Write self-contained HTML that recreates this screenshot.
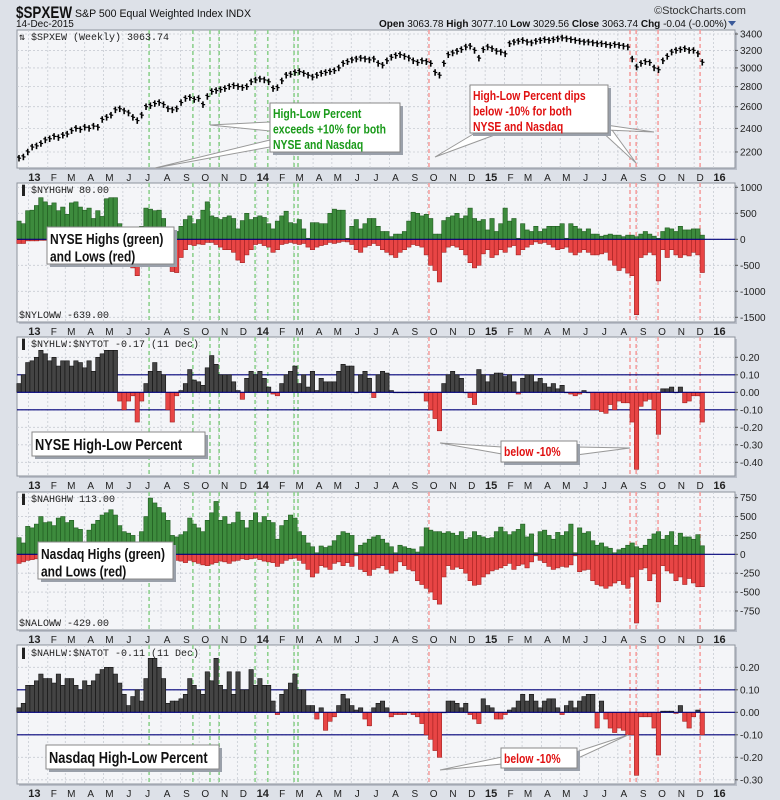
<!DOCTYPE html>
<html><head><meta charset="utf-8"><style>
html,body{margin:0;padding:0;background:#dde1e8;}
svg{display:block;font-family:"Liberation Sans",sans-serif;}
.ax{font-size:10px;fill:#222;}
.mo{font-size:10px;fill:#222;}
.yr{font-size:11px;font-weight:bold;fill:#222;}
.pl{font-family:"Liberation Mono",monospace;font-size:10px;fill:#222;}
.nb{font-family:"Liberation Sans Narrow","Liberation Sans",sans-serif;font-weight:bold;}
</style></head><body>
<svg id="chart" width="780" height="800" viewBox="0 0 780 800">
<rect x="0" y="0" width="780" height="800" fill="#dde1e8"/>
<text x="16" y="18" font-size="17" font-weight="bold" fill="#111" textLength="56" lengthAdjust="spacingAndGlyphs">$SPXEW</text>
<text x="75" y="17" font-size="11" fill="#111" textLength="176" lengthAdjust="spacingAndGlyphs">S&amp;P 500 Equal Weighted Index  INDX</text>
<text x="16" y="27" font-size="10" fill="#111">14-Dec-2015</text>
<text x="700" y="14" font-size="11" fill="#333" text-anchor="middle">©StockCharts.com</text>
<text x="727" y="27" font-size="10" fill="#111" text-anchor="end"><tspan font-weight="bold">Open</tspan> 3063.78 <tspan font-weight="bold">High</tspan> 3077.10 <tspan font-weight="bold">Low</tspan> 3029.56 <tspan font-weight="bold">Close</tspan> 3063.74 <tspan font-weight="bold">Chg</tspan> -0.04 (-0.00%)</text>
<polygon points="728,21 736,21 732,26" fill="#3a5a9a"/>
<g id="layer"></g>
</svg>
<script>
const price=[2150,2160,2200,2240,2250,2270,2300,2310,2330,2320,2340,2350,2380,2400,2390,2410,2400,2420,2410,2480,2500,2520,2570,2580,2560,2540,2500,2470,2520,2600,2610,2630,2640,2620,2580,2570,2580,2640,2680,2690,2670,2680,2620,2700,2750,2760,2770,2780,2800,2810,2800,2790,2800,2850,2870,2880,2870,2850,2780,2790,2860,2920,2930,2950,2960,2940,2920,2900,2920,2940,2950,2960,2970,3000,3050,3070,3090,3100,3110,3100,3090,3100,3050,3030,3080,3120,3140,3150,3130,3110,3080,3060,3080,3070,3050,2950,2920,3050,3150,3170,3190,3210,3240,3250,3200,3110,3210,3240,3220,3190,3180,3160,3280,3300,3310,3320,3300,3290,3310,3320,3330,3320,3330,3340,3350,3340,3330,3320,3310,3300,3300,3290,3280,3280,3270,3260,3270,3260,3250,3240,3100,3010,3050,3070,3060,3000,2980,3080,3130,3180,3200,3210,3220,3200,3200,3160,3063];
const nyHighs=[350,300,550,560,650,800,720,650,700,550,620,480,700,720,620,560,600,400,550,440,780,800,800,300,150,100,50,220,250,600,580,550,560,400,200,150,150,250,380,450,300,380,560,720,450,420,380,420,450,400,200,360,500,380,420,450,420,300,200,350,450,540,320,300,380,200,20,320,320,300,300,500,580,560,560,20,250,380,200,300,400,400,250,150,150,50,100,100,150,350,520,500,450,480,400,100,100,360,420,450,500,400,450,600,400,350,380,180,400,150,300,600,350,400,20,300,180,150,250,150,200,250,250,250,300,20,300,250,200,150,200,100,100,60,80,100,80,80,50,80,80,50,100,150,100,60,20,150,220,200,150,250,180,180,200,200,80];
const nyLows=[-80,-80,-30,-30,-30,-20,-20,-20,-20,-30,-30,-20,-30,-20,-20,-30,-30,-40,-30,-20,-20,-20,-20,-150,-250,-300,-550,-700,-450,-80,-60,-80,-100,-100,-300,-620,-640,-350,-200,-100,-120,-90,-100,-60,-60,-100,-150,-200,-200,-250,-400,-450,-300,-200,-100,-80,-120,-150,-250,-200,-100,-80,-60,-80,-100,-80,-150,-200,-150,-120,-100,-60,-80,-60,-40,-50,-100,-200,-250,-150,-120,-80,-120,-200,-250,-300,-350,-250,-200,-150,-100,-120,-150,-300,-500,-600,-820,-250,-150,-120,-150,-200,-300,-450,-550,-500,-280,-200,-350,-300,-200,-250,-150,-120,-300,-200,-150,-100,-50,-80,-60,-100,-150,-200,-180,-150,-250,-300,-250,-200,-250,-300,-300,-280,-250,-400,-500,-600,-550,-650,-700,-1450,-350,-300,-250,-300,-800,-200,-350,-200,-300,-350,-300,-320,-250,-300,-639];
const nyHLP=[.05,.1,.17,.18,.2,.24,.22,.18,.2,.15,.18,.18,.15,.18,.17,.14,.18,.12,.2,.22,.24,.24,.24,-.05,-.1,-.05,-.02,-.17,-.05,.05,.12,.17,.12,.1,-.1,-.17,-.02,.01,.05,.13,.07,.06,.04,.14,.21,.16,.1,.1,.1,.06,.01,-.04,.08,.12,.1,.12,.08,.03,-.01,-.02,.05,.1,.12,.15,.05,.1,.03,.12,.01,.08,.06,.06,.06,.12,.16,.15,.15,0,.1,.12,.08,-.03,.1,.12,.11,.01,0,0,0,0,0,0,0,-.05,-.1,-.15,-.22,.05,.1,.12,.1,.08,0,-.03,-.07,.13,.1,.06,.1,.11,.11,.09,.1,.06,-.01,.08,.1,.1,.06,.08,.05,.03,.05,.02,.04,0,-.01,-.02,-.01,.01,0,-.1,-.1,-.11,-.12,-.07,-.1,-.05,-.06,-.06,-.17,-.44,-.08,-.05,-.04,-.1,-.24,.02,.02,.03,0,.03,-.06,-.05,-.02,-.02,-.17];
const naHighs=[220,150,370,350,400,500,420,430,380,480,500,420,450,350,330,150,320,400,450,520,550,590,520,380,300,280,250,150,300,500,745,680,620,550,450,250,230,260,300,480,400,350,300,450,550,700,450,500,400,420,560,450,350,450,550,420,500,450,420,200,380,450,520,480,300,250,150,100,20,110,90,110,180,250,300,280,250,20,120,150,200,230,250,200,150,100,20,120,100,80,70,30,100,350,320,300,300,280,300,280,250,300,200,220,300,250,230,210,220,300,360,300,260,300,330,400,230,270,20,300,320,250,200,290,250,300,400,20,350,280,300,180,120,150,100,80,20,60,80,120,150,100,80,120,200,270,300,200,250,300,120,280,230,230,200,260,113];
const naLows=[-120,-100,-80,-70,-60,-50,-50,-40,-40,-40,-30,-30,-30,-20,-20,-20,-30,-30,-20,-20,-20,-20,-20,-30,-40,-50,-60,-50,-80,-60,-20,-20,-20,-40,-140,-120,-80,-90,-110,-80,-100,-120,-140,-150,-130,-110,-90,-100,-120,-90,-80,-60,-70,-60,-50,-70,-90,-100,-110,-160,-120,-80,-60,-50,-80,-120,-200,-300,-250,-150,-170,-200,-120,-100,-150,-110,-160,-20,-200,-230,-280,-200,-180,-150,-200,-250,-220,-100,-150,-200,-220,-350,-400,-450,-500,-600,-660,-300,-150,-200,-170,-190,-250,-350,-410,-400,-300,-260,-220,-200,-180,-150,-120,-200,-150,-130,-180,-100,-20,-80,-110,-160,-200,-180,-160,-170,-140,-20,-230,-210,-200,-350,-400,-420,-450,-420,-380,-350,-400,-450,-300,-910,-200,-180,-350,-260,-630,-150,-220,-250,-350,-300,-400,-320,-380,-430,-429];
const naHLP=[.02,.04,.12,.12,.14,.17,.15,.15,.13,.17,.12,.15,.15,.12,.1,.14,.12,.14,.17,.19,.2,.2,.17,.13,.08,.03,.07,.1,.05,.15,.24,.24,.2,.15,.04,.05,.05,.06,.08,.15,.12,.1,.08,.18,.14,.24,.12,.1,.18,.08,.18,.1,.1,.19,.12,.15,.12,.12,.05,-.01,.08,.1,.13,.17,.1,.1,.03,.03,-.03,.02,-.08,-.04,-.02,.03,.08,.06,.03,.01,.02,-.03,-.06,.02,.04,.05,.02,-.02,-.01,-.01,-.01,0,-.01,-.02,-.05,-.1,-.12,-.17,-.2,0,.05,.05,.04,.02,.04,-.01,-.03,-.05,.06,.03,.02,-.03,-.03,-.01,.01,.02,.05,.08,.05,.08,.05,.02,.05,.06,.06,.02,-.01,.03,.05,.02,.05,.07,.08,.08,-.07,.05,-.03,-.07,-.09,-.07,-.08,-.1,-.1,-.28,-.02,-.02,-.02,-.07,-.19,.005,.005,.005,-.005,.03,-.04,-.07,-.02,.01,-.1];
const greenWeeks=[29.7,39.7,43.6,45.7,53.9,56.8,62.8,63.7];
const redWeeks=[93.6,139.5,140.9,145.9,155.5];
const months=["13","F","M","A","M","J","J","A","S","O","N","D","14","F","M","A","M","J","J","A","S","O","N","D","15","F","M","A","M","J","J","A","S","O","N","D","16"];

const NS="http://www.w3.org/2000/svg";
const L=document.getElementById('layer');
const X0=17,X1=735;
function xw(i){return 19+i*4.38;}
function el(t,a,p){const e=document.createElementNS(NS,t);for(const k in a)e.setAttribute(k,a[k]);(p||L).appendChild(e);return e;}
const panels=[
 {name:'price-panel',top:30,bot:168},
 {name:'nyse-highs-lows-panel',top:183,bot:322},
 {name:'nyse-hl-percent-panel',top:337,bot:476},
 {name:'nasdaq-highs-lows-panel',top:492,bot:630},
 {name:'nasdaq-hl-percent-panel',top:645,bot:784}];
const yP=v=>34+271*Math.log(3400/v);
const y2=v=>239.3-v*0.052;
const y3=v=>392.3-v*175;
const y4=v=>554.3-v*0.0755;
const y5=v=>712.3-v*225;
const ticks=[[3400,3200,3000,2800,2600,2400,2200],[1000,500,0,-500,-1000,-1500],[.2,.1,0,-.1,-.2,-.3,-.4],[750,500,250,0,-250,-500,-750],[.2,.1,0,-.1,-.2,-.3]];
const tickLbl=[v=>String(v),v=>String(v),v=>v.toFixed(2),v=>String(v),v=>v.toFixed(2)];
const yf=[yP,y2,y3,y4,y5];
function mx(k){const y=2013+Math.floor(k/12),m=k%12;const d=(Date.UTC(y,m,1)-Date.UTC(2012,11,17))/864e5;return xw(d/7);}
panels.forEach((p,pi)=>{
 const g=el('g',{});
 
 
 el('rect',{x:X0+2,y:p.top+2,width:X1-X0,height:p.bot-p.top,fill:'#b9bec8'},g);
 el('rect',{x:X0,y:p.top,width:X1-X0,height:p.bot-p.top,fill:'#f4f5f8',stroke:'#8d929c','stroke-width':1},g);
 for(let k=0;k<months.length;k++){const x=mx(k);if(x>X0&&x<X1)el('line',{x1:x,x2:x,y1:p.top,y2:p.bot,stroke:'#c8ccd3','stroke-dasharray':'2,2','stroke-width':0.8},g);
  const t=el('text',{x:x+6,y:p.bot+13,'text-anchor':'middle',class:months[k].length>1?'yr':'mo'},g);t.textContent=months[k];
  
  }
 ticks[pi].forEach(v=>{const y=yf[pi](v);el('line',{x1:X0,x2:X1,y1:y,y2:y,stroke:'#c8ccd3','stroke-dasharray':'2,2','stroke-width':0.8},g);
  el('line',{x1:X1,x2:X1+3,y1:y,y2:y,stroke:'#555'},g);
  const t=el('text',{x:X1+5,y:y+3.5,class:'ax'},g);t.textContent=tickLbl[pi](v);
  
  });
 greenWeeks.forEach(w=>el('line',{x1:xw(w),x2:xw(w),y1:p.top,y2:p.bot,stroke:'#8fd18f','stroke-width':1.6,'stroke-dasharray':'4,3'},g));
 redWeeks.forEach(w=>el('line',{x1:xw(w),x2:xw(w),y1:p.top,y2:p.bot,stroke:'#f5a0a0','stroke-width':1.6,'stroke-dasharray':'4,3'},g));
 p.g=g;
});
function hline(g,y,c){el('line',{x1:X0,x2:X1,y1:y,y2:y,stroke:c,'stroke-width':1.2},g);}
price.forEach((c,i)=>{const x=xw(i);const b=el('g',{},panels[0].g);
 
 
 el('line',{x1:x,x2:x,y1:yP(c*1.012),y2:yP(c*0.988),stroke:'#000','stroke-width':1.6},b);
 el('line',{x1:x-2,x2:x,y1:yP(c*1.004),y2:yP(c*1.004),stroke:'#000','stroke-width':1.2},b);
 el('line',{x1:x,x2:x+2.2,y1:yP(c),y2:yP(c),stroke:'#000','stroke-width':1.2},b);});
function bars(g,arr,yfn,fillP,strokeP,fillN,strokeN,nm){const z=yfn(0);arr.forEach((v,i)=>{const y=yfn(v);
 const r=el('rect',{x:xw(i)-2.2,y:Math.min(y,z),width:4.38,height:Math.max(0.5,Math.abs(y-z)),fill:v>=0?fillP:fillN,stroke:v>=0?strokeP:strokeN,'stroke-width':0.6},g);
 
 });}
bars(panels[1].g,nyHighs,y2,'#3d8b3d','#1f5a1f','#e84545','#a32020','nyse-highs-bar');
bars(panels[1].g,nyLows,y2,'#3d8b3d','#1f5a1f','#e84545','#a32020','nyse-lows-bar');
hline(panels[1].g,y2(0),'#00007a');
hline(panels[2].g,y3(.1),'#00007a');hline(panels[2].g,y3(-.1),'#00007a');
bars(panels[2].g,nyHLP,y3,'#444','#111','#e84545','#a32020','nyse-hl-percent-bar');
hline(panels[2].g,y3(0),'#00007a');
bars(panels[3].g,naHighs,y4,'#3d8b3d','#1f5a1f','#e84545','#a32020','nasdaq-highs-bar');
bars(panels[3].g,naLows,y4,'#3d8b3d','#1f5a1f','#e84545','#a32020','nasdaq-lows-bar');
hline(panels[3].g,y4(0),'#00007a');
hline(panels[4].g,y5(.1),'#00007a');hline(panels[4].g,y5(-.1),'#00007a');
bars(panels[4].g,naHLP,y5,'#444','#111','#e84545','#a32020','nasdaq-hl-percent-bar');
hline(panels[4].g,y5(0),'#00007a');
function lbl(txt,x,y,nm){const t=el('text',{x:x,y:y,class:'pl'});t.textContent=txt;
 
 }
lbl('\u21c5 $SPXEW (Weekly) 3063.74',19,40,'price-panel-label');
lbl('\u2590 $NYHGHW 80.00',19,193,'nyse-highs-label');
lbl('$NYLOWW -639.00',19,318,'nyse-lows-label');
lbl('\u2590 $NYHLW:$NYTOT -0.17 (11 Dec)',19,347,'nyse-hl-percent-label');
lbl('\u2590 $NAHGHW 113.00',19,502,'nasdaq-highs-label');
lbl('$NALOWW -429.00',19,626,'nasdaq-lows-label');
lbl('\u2590 $NAHLW:$NATOT -0.11 (11 Dec)',19,656,'nasdaq-hl-percent-label');
function ptr(pts){el('polygon',{points:pts,fill:'#fff',stroke:'#999','stroke-width':1});}
function box(x,y,w,h,lines,color,fs,nm){const g=el('g',{});
 
 
 el('rect',{x:x+3,y:y+3,width:w,height:h,fill:'#9aa0aa'},g);
 el('rect',{x:x,y:y,width:w,height:h,fill:'#fff',stroke:'#888'},g);
 lines.forEach((s,k)=>{const t=el('text',{x:x+3,y:y+fs+2+k*(fs+2.5),fill:color,'font-size':fs,class:'nb'},g);t.textContent=s;
  const len=t.getComputedTextLength();t.setAttribute('textLength',(len*0.8).toFixed(1));t.setAttribute('lengthAdjust','spacingAndGlyphs');});}
ptr('270,122 210,125 270,131');ptr('270,140 155,168 270,147');
box(270,103,130,49,['High-Low Percent','exceeds +10% for both','NYSE and Nasdaq'],'#1a9a1a',13,'green-annotation');
ptr('480,130 435,157 500,133');ptr('600,130 636,163 612,130');ptr('606,125 654,132 606,130');
box(470,85,138,48,['High-Low Percent dips','below -10% for both','NYSE and Nasdaq'],'#e01010',13,'red-annotation');
box(47,227,127,37,['NYSE Highs (green)','and Lows (red)'],'#111',15,'nyse-highs-lows-note');
box(32,432,173,24,['NYSE High-Low Percent'],'#111',16,'nyse-hl-percent-note');
ptr('502,447 440,443 502,454');ptr('576,447 630,448 576,455');
box(501,441,76,21,['below -10%'],'#e01010',13,'nyse-below-10-note');
box(38,542,135,37,['Nasdaq Highs (green)','and Lows (red)'],'#111',15,'nasdaq-highs-lows-note');
box(46,745,173,24,['Nasdaq High-Low Percent'],'#111',16,'nasdaq-hl-percent-note');
ptr('502,757 440,770 502,764');ptr('576,752 628,735 576,759');
box(501,748,76,20,['below -10%'],'#e01010',13,'nasdaq-below-10-note');
</script>
</body></html>
